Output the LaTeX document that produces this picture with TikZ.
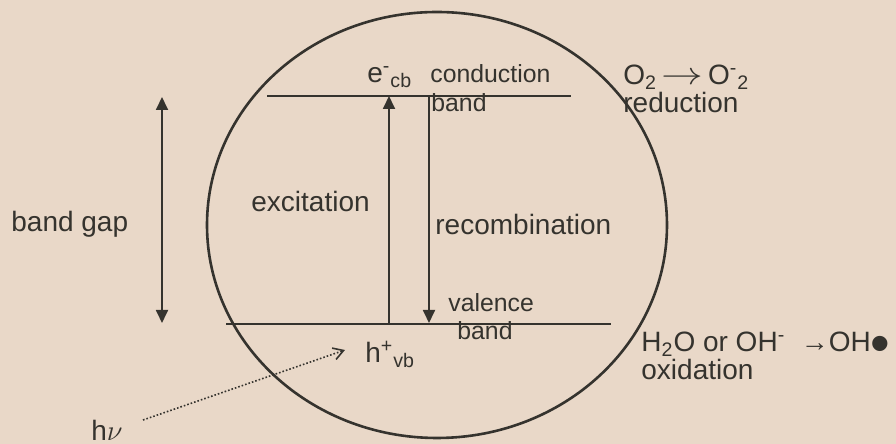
\documentclass[tikz,border=0pt]{standalone}
\usepackage{fontspec}
\setmainfont{Liberation Sans}
\usetikzlibrary{arrows.meta}
\definecolor{paper}{HTML}{E9D8C8}
\definecolor{ink}{HTML}{35332E}

\begin{document}
\begin{tikzpicture}[
  x=0.5pt,y=0.5pt,
  lbl/.style={font=\fontsize{14}{16}\selectfont,text=ink,inner sep=0pt,anchor=base west},
  bandlbl/.style={lbl,font=\fontsize{12.4}{14}\selectfont},
  level/.style={ink,line width=1pt},
  arr/.style={-{Triangle[length=6.5pt,width=6pt]},ink,line width=0.9pt},
  gap/.style={{Triangle[length=6.5pt,width=6pt]}-{Triangle[length=6.5pt,width=6pt]},ink,line width=0.9pt},
  photon/.style={-{Straight Barb[length=5pt,width=6pt]},ink,densely dotted,line width=0.8pt}]
\useasboundingbox (0,0) rectangle (896,444);
\fill[paper] (0,0) rectangle (896,444);
\clip (0,0) rectangle (896,444);

% ---------- the particle and its two band edges ----------
\coordinate (mid) at (437,219);
\draw[ink,line width=1.3pt] (mid) ellipse [x radius=230,y radius=213];
\coordinate (cbL) at (267,348);
\coordinate (cbR) at (571,348);
\coordinate (vbL) at (226,120);
\coordinate (vbR) at (611,120);
\draw[level] (cbL) -- (cbR);
\draw[level] (vbL) -- (vbR);

% ---------- excitation up, recombination down ----------
\coordinate (exLo) at (389,120);
\coordinate (exHi) at (389,348);
\coordinate (reHi) at (429,348);
\coordinate (reLo) at (429,121);
\draw[arr] (exLo) -- (exHi);
\draw[arr] (reHi) -- (reLo);
\node[lbl] (excit) at (251,232) {excitation};
\node[lbl] (recomb) at (435,209) {recombination};

% ---------- band gap, outside the particle ----------
\coordinate (gapHi) at (162,347);
\coordinate (gapLo) at (162,121);
\draw[gap] (gapLo) -- (gapHi);
\node[lbl] (bandgap) at (11,212) {band gap};

% ---------- carriers and band names ----------
\node[lbl] (ecb) at (367,361) {e\textsuperscript{-}\textsubscript{cb}};
\node[bandlbl] (cond) at (430,361) {conduction};
\node[bandlbl] (condband) at (431,332) {band};
\node[bandlbl] (val) at (448,132) {valence};
\node[bandlbl] (valband) at (457,104) {band};
\node[lbl] (hvb) at (365,81) {h\textsuperscript{+}\textsubscript{vb}};

% ---------- the photon ----------
\node[lbl] (hnu) at (91,3) {h$\nu$};
\coordinate (photo) at (143,24);
\coordinate (hit) at (345,94);
\draw[photon] (photo) -- (hit);

% ---------- surface reactions ----------
\node[lbl] (redeq) at (623,359) {O\textsubscript{2}\,\scalebox{1.45}[1.1]{$\rightarrow$}\,O\textsuperscript{-}\textsubscript{2}};
\node[lbl] (red) at (623,331) {reduction};
\node[lbl] (oxeq) at (641,92) {H\textsubscript{2}O or OH\textsuperscript{-}\ \ →OH\raisebox{-5.3pt}{\fontsize{28}{28}\selectfont•}};
\node[lbl] (ox) at (641,64) {oxidation};
\end{tikzpicture}
\end{document}
